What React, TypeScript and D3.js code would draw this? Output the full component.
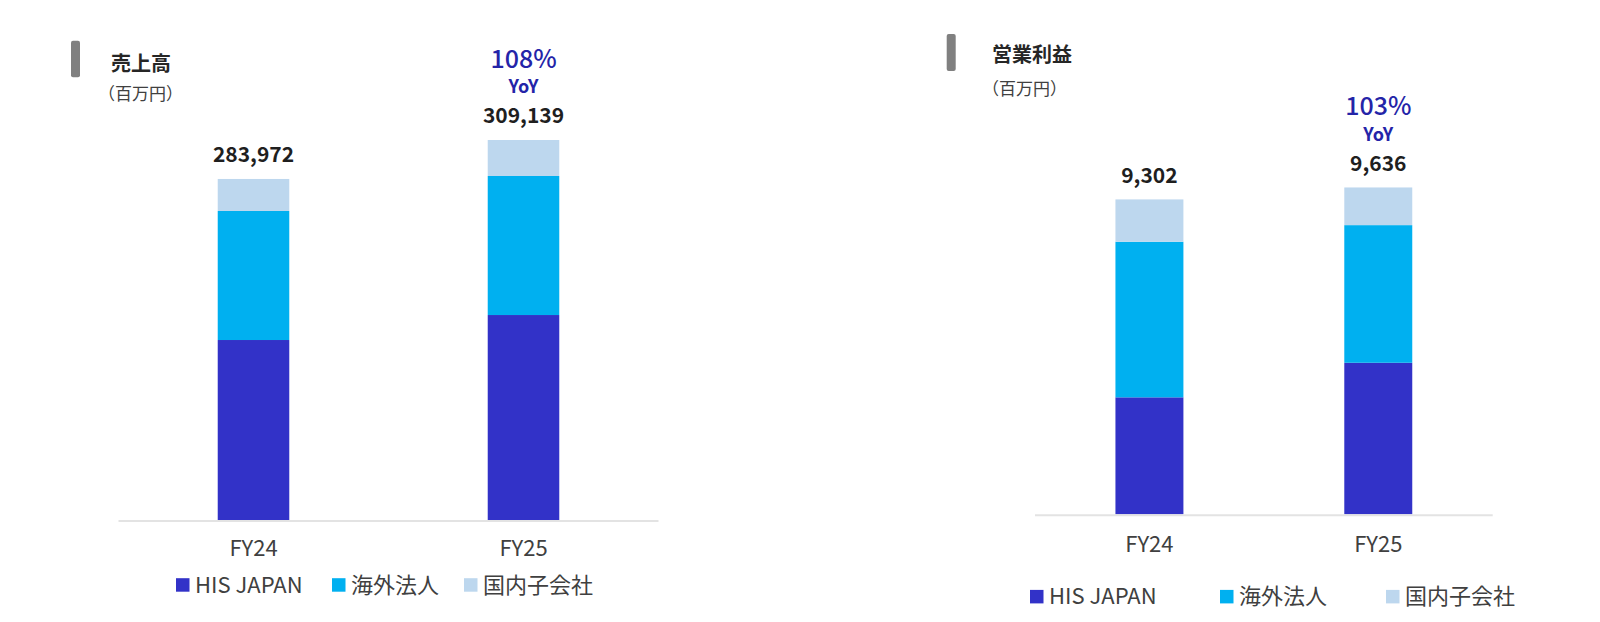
import React, { useEffect, useRef } from "react";
import * as d3 from "d3";

// categories and series (values in 百万円)
const years = ["FY24", "FY25"];
const segments = ["HIS JAPAN", "海外法人", "国内子会社"];
const colors = ["#3232C8", "#00B0F0", "#BDD7EE"];

const salesJapan = [145500, 165700];
const salesOverseas = [104300, 112400];
const salesDomestic = [25900, 29100];
const salesTotals = [283972, 309139];

const profitJapan = [3462, 4485];
const profitOverseas = [4604, 4074];
const profitDomestic = [1254, 1115];
const profitTotals = [9302, 9636];

const salesYoY = "108%";
const profitYoY = "103%";

const FONT = "'Noto Sans CJK JP', 'Noto Sans', sans-serif";

export default function App() {
  const ref = useRef(null);

  useEffect(() => {
    const svg = d3.select(ref.current);
    svg.selectAll("*").remove();

    const panels = [
      {
        title: "売上高",
        rows: [salesJapan, salesOverseas, salesDomestic],
        totals: salesTotals,
        yoy: salesYoY,
        max: 400000,
        left: 118.5,
        right: 658.5,
        base: 520,
        top: 25.2,
        padIn: 0.735,
        marker: { x: 71, y: 40.7, h: 36.6 },
        titleX: 111,
        titleY: 70.5,
        unitX: 98,
        unitY: 100,
        axisLabelY: 556,
        legendY: 585,
        legendX: [176, 332, 464],
      },
      {
        title: "営業利益",
        rows: [profitJapan, profitOverseas, profitDomestic],
        totals: profitTotals,
        yoy: profitYoY,
        max: 14000,
        left: 1035,
        right: 1492.7,
        base: 514.3,
        top: 41.3,
        padIn: 0.703,
        marker: { x: 946.7, y: 34, h: 37 },
        titleX: 992,
        titleY: 62,
        unitX: 982,
        unitY: 94.5,
        axisLabelY: 551.5,
        legendY: 596.7,
        legendX: [1030, 1220, 1386],
      },
    ];

    const fmt = d3.format(",d");

    panels.forEach((p) => {
      const g = svg.append("g");

      const x = d3
        .scaleBand()
        .domain(years)
        .range([p.left, p.right])
        .paddingInner(p.padIn)
        .paddingOuter(p.padIn / 2);

      const y = d3.scaleLinear().domain([0, p.max]).range([p.base, p.top]);

      const table = years.map((yr, i) => {
        const row = { year: yr };
        segments.forEach((s, j) => (row[s] = p.rows[j][i]));
        return row;
      });
      const series = d3.stack().keys(segments)(table);

      // title block
      g.append("rect")
        .attr("x", p.marker.x)
        .attr("y", p.marker.y)
        .attr("width", 9)
        .attr("height", p.marker.h)
        .attr("rx", 2)
        .attr("fill", "#808080");
      g.append("text")
        .attr("x", p.titleX)
        .attr("y", p.titleY)
        .attr("font-size", 20)
        .attr("font-weight", 700)
        .attr("fill", "#262626")
        .text(p.title);
      g.append("text")
        .attr("x", p.unitX)
        .attr("y", p.unitY)
        .attr("font-size", 17)
        .attr("fill", "#404040")
        .text("（百万円）");

      // bars
      g.append("g")
        .selectAll("g")
        .data(series)
        .join("g")
        .attr("fill", (d, i) => colors[i])
        .selectAll("rect")
        .data((d) => d)
        .join("rect")
        .attr("x", (d) => x(d.data.year))
        .attr("width", x.bandwidth())
        .attr("y", (d) => y(d[1]))
        .attr("height", (d) => y(d[0]) - y(d[1]));

      // baseline
      g.append("line")
        .attr("x1", p.left)
        .attr("x2", p.right)
        .attr("y1", p.base + 1)
        .attr("y2", p.base + 1)
        .attr("stroke", "#e3e3e3")
        .attr("stroke-width", 2);

      // totals + YoY
      const last = series[series.length - 1];
      years.forEach((yr, i) => {
        const cx = x(yr) + x.bandwidth() / 2;
        const topY = y(last[i][1]);
        g.append("text")
          .attr("x", cx)
          .attr("y", topY - 16.5)
          .attr("text-anchor", "middle")
          .attr("font-size", 21)
          .attr("font-weight", 700)
          .attr("fill", "#1f1f1f")
          .text(fmt(p.totals[i]));
        if (i === years.length - 1) {
          g.append("text")
            .attr("x", cx)
            .attr("y", topY - 46.5)
            .attr("text-anchor", "middle")
            .attr("font-size", 18)
            .attr("font-weight", 700)
            .attr("fill", "#2424A8")
            .text("YoY");
          g.append("text")
            .attr("x", cx)
            .attr("y", topY - 72)
            .attr("text-anchor", "middle")
            .attr("font-size", 25)
            .attr("font-weight", 500)
            .attr("fill", "#2424A8")
            .text(p.yoy);
        }
        g.append("text")
          .attr("x", cx)
          .attr("y", p.axisLabelY)
          .attr("text-anchor", "middle")
          .attr("font-size", 22)
          .attr("fill", "#404040")
          .text(yr);
      });

      // legend
      segments.forEach((s, j) => {
        const lx = p.legendX[j];
        g.append("rect")
          .attr("x", lx)
          .attr("y", p.legendY - 6.8)
          .attr("width", 13.5)
          .attr("height", 13.5)
          .attr("fill", colors[j]);
        g.append("text")
          .attr("x", lx + 19)
          .attr("y", p.legendY + 7.5)
          .attr("font-size", 22)
          .attr("fill", "#404040")
          .text(s);
      });
    });
  }, []);

  return (
    <svg
      ref={ref}
      width={1600}
      height={622}
      style={{ position: "absolute", left: 0, top: 0, fontFamily: FONT, background: "#fff" }}
    />
  );
}
